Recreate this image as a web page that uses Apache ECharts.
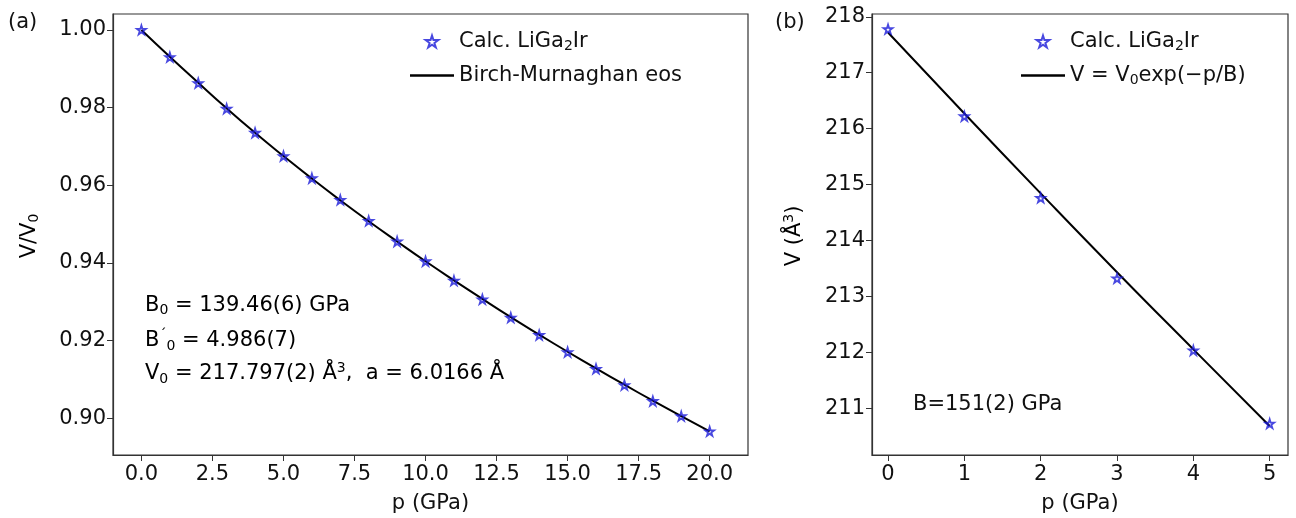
<!DOCTYPE html>
<html><head><meta charset="utf-8">
<script src="https://cdn.jsdelivr.net/npm/echarts@6/dist/echarts.min.js"></script>
<style>html,body{margin:0;background:#fff}#c{width:1296px;height:518px}</style>
</head><body><div id="c"></div>
<script>
const pA = [0,1,2,3,4,5,6,7,8,9,10,11,12,13,14,15,16,17,18,19,20];
const ratioA = [1.000,0.9930,0.9863,0.9797,0.9735,0.9675,0.9618,0.9562,0.9508,0.9455,0.9404,0.9354,0.9306,0.9259,0.9214,0.9170,0.9127,0.9085,0.9044,0.9005,0.8966];
const fitA = [1.000,0.9931,0.9864,0.9798,0.9735,0.9675,0.9617,0.9561,0.9507,0.9455,0.9404,0.9355,0.9307,0.9260,0.9215,0.9171,0.9128,0.9086,0.9045,0.9005,0.8966];
const pB = [0,1,2,3,4,5];
const volB = [217.78,216.22,214.76,213.32,212.03,210.72];
const fitB = [217.72,216.27,214.84,213.43,212.05,210.68];
const ticksA_x = [0,2.5,5,7.5,10,12.5,15,17.5,20];
const ticksA_y = [0.90,0.92,0.94,0.96,0.98,1.00];
const ticksB_x = [0,1,2,3,4,5];
const ticksB_y = [211,212,213,214,215,216,217,218];

const star = 'path://M50,0 L61,35 L98,35 L68,57 L79,91 L50,70 L21,91 L32,57 L2,35 L39,35 Z';
const lineIcon = 'path://M0,0 L44,0 L44,2.4 L0,2.4 Z';
const font = '"DejaVu Sans", sans-serif';
const FS = 21;
const axisCommon = {
  axisLine: { onZero: false, lineStyle: { color: '#333', width: 1.2 } },
  axisTick: { inside: false, length: 6, lineStyle: { color: '#333' } },
  axisLabel: { color: '#111', fontSize: FS, fontFamily: font },
  splitLine: { show: false },
  nameTextStyle: { color: '#111', fontSize: FS, fontFamily: font }
};
function xAx(grid, min, max, ticks, fmt) {
  return Object.assign({}, axisCommon, {
    type: 'value', gridIndex: grid, min, max, name: 'p (GPa)', nameLocation: 'middle', nameGap: 38,
    axisTick: Object.assign({}, axisCommon.axisTick, { customValues: ticks }),
    axisLabel: Object.assign({}, axisCommon.axisLabel, { customValues: ticks, formatter: fmt, margin: 9 })
  });
}
function yAx(grid, min, max, ticks, fmt) {
  return Object.assign({}, axisCommon, {
    type: 'value', gridIndex: grid, min, max,
    axisTick: Object.assign({}, axisCommon.axisTick, { customValues: ticks }),
    axisLabel: Object.assign({}, axisCommon.axisLabel, { customValues: ticks, formatter: fmt, margin: 7 })
  });
}
const sub = { fontSize: 14, fontFamily: font, color: '#111', verticalAlign: 'bottom', padding: [9, 0, 0, 0] };
const sup = { fontSize: 14, fontFamily: font, color: '#111', padding: [0, 0, 11, 0] };
const txt = { fontSize: FS, fontFamily: font, color: '#111' };
const blue = '#1a1ad8';

const chart = echarts.init(document.getElementById('c'));
chart.setOption({
  animation: false,
  grid: [
    { left: 113, top: 14, width: 635, height: 441, show: true, borderColor: '#333', borderWidth: 1.2, outerBoundsMode: 'none', containLabel: false },
    { left: 872, top: 14, width: 416, height: 441, show: true, borderColor: '#333', borderWidth: 1.2, outerBoundsMode: 'none', containLabel: false }
  ],
  xAxis: [
    xAx(0, -1, 21.35, ticksA_x, v => v.toFixed(1)),
    xAx(1, -0.21, 5.24, ticksB_x, v => String(v))
  ],
  yAxis: [
    yAx(0, 0.8905, 1.0041, ticksA_y, v => v.toFixed(2)),
    yAx(1, 210.16, 218.05, ticksB_y, v => String(v))
  ],
  legend: [
    { left: 405, top: 26, orient: 'vertical', itemGap: 12, itemWidth: 44, itemHeight: 12,
      data: [{ name: 'Calc. LiGa2Ir', icon: star }, { name: 'Birch-Murnaghan eos', icon: lineIcon }],
      formatter: n => n === 'Calc. LiGa2Ir' ? '{t|Calc. LiGa}{s|2}{t|Ir}' : '{t|Birch-Murnaghan eos}',
      textStyle: { rich: { t: txt, s: sub } } },
    { left: 1016, top: 26, orient: 'vertical', itemGap: 12, itemWidth: 44, itemHeight: 12,
      data: [{ name: 'Calc b', icon: star }, { name: 'Fit b', icon: lineIcon }],
      formatter: n => n === 'Calc b' ? '{t|Calc. LiGa}{s|2}{t|Ir}' : '{t|V = V}{s|0}{t|exp(\u2212p/B)}',
      textStyle: { rich: { t: txt, s: sub } } }
  ],
  series: [
    { name: 'Birch-Murnaghan eos', type: 'line', xAxisIndex: 0, yAxisIndex: 0, data: pA.map((p, i) => [p, fitA[i]]),
      smooth: true, showSymbol: false, lineStyle: { color: '#000', width: 2 }, itemStyle: { color: '#000' }, z: 2 },
    { name: 'Calc. LiGa2Ir', type: 'scatter', xAxisIndex: 0, yAxisIndex: 0, data: pA.map((p, i) => [p, ratioA[i]]),
      symbol: star, symbolSize: 9, itemStyle: { color: 'rgba(255,255,255,0)', borderColor: blue, borderWidth: 1.8 }, z: 3 },
    { name: 'Fit b', type: 'line', xAxisIndex: 1, yAxisIndex: 1, data: pB.map((p, i) => [p, fitB[i]]),
      smooth: true, showSymbol: false, lineStyle: { color: '#000', width: 2 }, itemStyle: { color: '#000' }, z: 2 },
    { name: 'Calc b', type: 'scatter', xAxisIndex: 1, yAxisIndex: 1, data: pB.map((p, i) => [p, volB[i]]),
      symbol: star, symbolSize: 9, itemStyle: { color: 'rgba(255,255,255,0)', borderColor: blue, borderWidth: 1.8 }, z: 3 }
  ],
  graphic: [
    { type: 'text', left: 8, top: 12, style: { text: '(a)', font: FS + 'px ' + font, fill: '#111' } },
    { type: 'text', left: 775, top: 12, style: { text: '(b)', font: FS + 'px ' + font, fill: '#111' } },
    { type: 'text', x: 30, y: 236, rotation: Math.PI / 2,
      style: { text: '{t|V/V}{s|0}', rich: { t: txt, s: sub }, align: 'center', verticalAlign: 'middle' } },
    { type: 'text', x: 795, y: 236, rotation: Math.PI / 2,
      style: { text: '{t|V (\u00c5}{u|3}{t|)}', rich: { t: txt, u: sup }, align: 'center', verticalAlign: 'middle' } },
    { type: 'text', left: 145, top: 295, style: { text: '{t|B}{s|0}{t| = 139.46(6) GPa}', rich: { t: txt, s: sub } } },
    { type: 'text', left: 145, top: 328, style: { text: "{t|B}{u|\u00b4}{s|0}{t| = 4.986(7)}", rich: { t: txt, s: sub, u: sup } } },
    { type: 'text', left: 145, top: 361, style: { text: '{t|V}{s|0}{t| = 217.797(2) \u00c5}{u|3}{t|,  a = 6.0166 \u00c5}', rich: { t: txt, s: sub, u: sup } } },
    { type: 'text', left: 913, top: 394, style: { text: 'B=151(2) GPa', font: FS + 'px ' + font, fill: '#111' } }
  ]
});
</script></body></html>
